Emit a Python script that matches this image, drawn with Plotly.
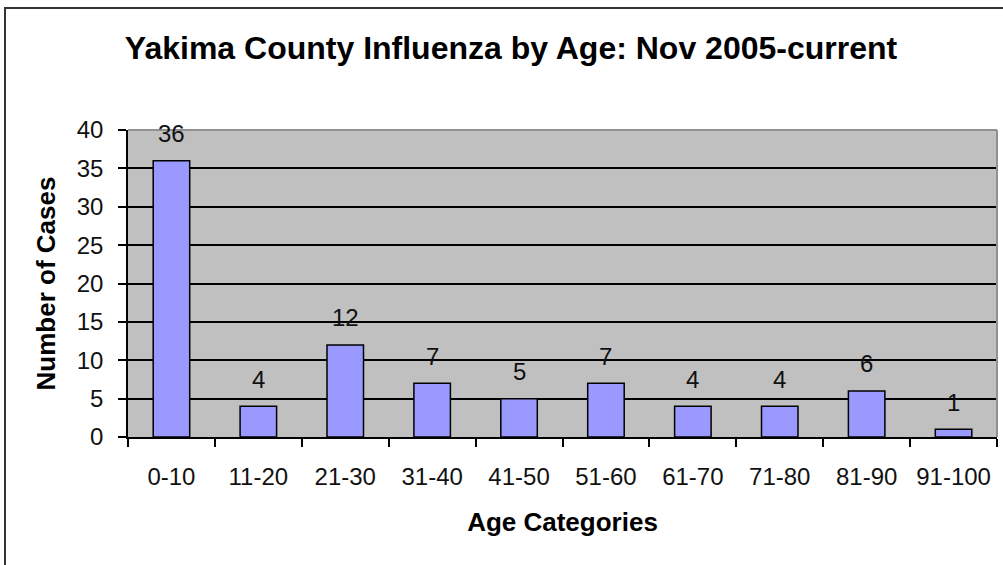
import plotly.graph_objects as go

categories = ["0-10", "11-20", "21-30", "31-40", "41-50", "51-60", "61-70", "71-80", "81-90", "91-100"]
cases = [36, 4, 12, 7, 5, 7, 4, 4, 6, 1]
y_ticks = [0, 5, 10, 15, 20, 25, 30, 35, 40]

W, H = 1003, 565
L, R, T, B = 128, 997, 130, 437
pw, ph = R - L, B - T

def px_x(p):
    return (p - L) / pw

def px_y(p):
    return (B - p) / ph

fig = go.Figure()
fig.add_trace(go.Bar(
    x=categories, y=cases,
    marker=dict(color="#9999FF", line=dict(color="black", width=1.5)),
    hoverinfo="x+y",
))

for c, v in zip(categories, cases):
    fig.add_annotation(x=c, y=v, text=str(v), showarrow=False,
                       yanchor="middle", yshift=27,
                       font=dict(family="Liberation Sans, Arial", size=24, color="#111"))

fig.update_layout(
    width=W, height=H,
    margin=dict(l=L, r=W - R, t=T, b=H - B, autoexpand=False),
    paper_bgcolor="white", plot_bgcolor="#C0C0C0",
    bargap=0.58,
    showlegend=False,
    font=dict(family="Liberation Sans, Arial", color="black"),
    title=dict(text="<b>Yakima County Influenza by Age: Nov 2005-current</b>",
               x=511 / W, xanchor="center", xref="container",
               y=1 - 48 / H, yanchor="middle", yref="container",
               font=dict(size=32, color="black")),
    xaxis=dict(
        type="category", tickson="boundaries", ticks="outside", ticklen=8,
        tickwidth=1.5, tickcolor="black", showline=True, linecolor="black", linewidth=1.5,
        showgrid=False, tickfont=dict(size=24, color="#111"), ticklabelstandoff=17,
        automargin=False,
        title=dict(text="<b>Age Categories</b>", font=dict(size=26, color="black"), standoff=24),
    ),
    yaxis=dict(
        range=[0, 40], tickvals=y_ticks, ticks="outside", ticklen=8, tickwidth=1.5,
        tickcolor="black", showline=True, linecolor="black", linewidth=1.5,
        showgrid=True, gridcolor="black", gridwidth=1.5, zeroline=False,
        tickfont=dict(size=24, color="#111"), ticklabelstandoff=10,
        automargin=False,
        title=dict(text="<b>Number of Cases</b>", font=dict(size=26, color="black"), standoff=14),
    ),
    shapes=[
        dict(type="line", xref="paper", yref="paper", x0=0, x1=1, y0=1, y1=1,
             line=dict(color="#909090", width=2), layer="above"),
        dict(type="line", xref="paper", yref="paper", x0=1, x1=1, y0=0, y1=1,
             line=dict(color="#909090", width=2), layer="above"),
        dict(type="rect", xref="paper", yref="paper",
             x0=px_x(5), x1=px_x(1014), y0=px_y(590), y1=px_y(8),
             line=dict(color="#333333", width=2), fillcolor="rgba(0,0,0,0)", layer="above"),
    ],
)

fig.write_html("out.html", config={"displayModeBar": False},
               post_script="document.body.style.margin='0';document.body.style.overflow='hidden';")
